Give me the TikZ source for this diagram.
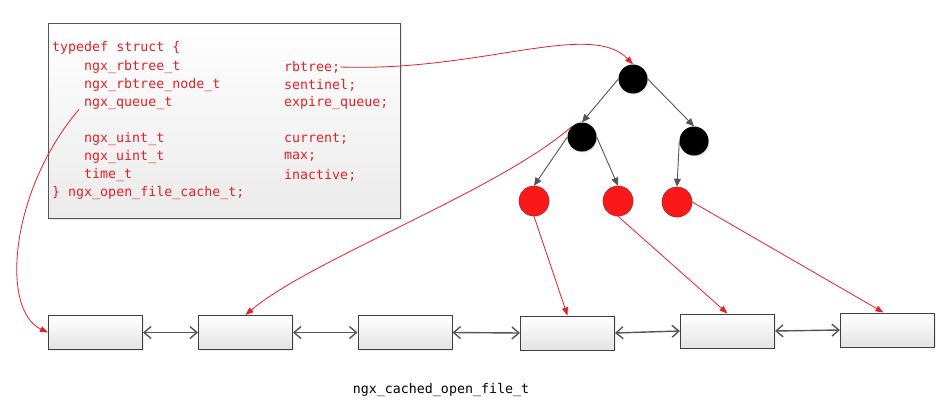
\documentclass[tikz,border=0pt]{standalone}
\usepackage{fontspec}
\setmonofont{DejaVu Sans Mono}
\usepackage{xcolor}
\usepackage{tikz}
\usetikzlibrary{arrows.meta, shadows}

\definecolor{codered}{RGB}{228,32,40}
\definecolor{leafred}{RGB}{250,24,24}
\definecolor{leafedge}{RGB}{170,40,40}
\definecolor{edgegray}{RGB}{85,85,85}
\definecolor{boxgray}{RGB}{64,64,64}

\tikzset{
    code/.style={font=\ttfamily\fontsize{13.3pt}{16pt}\selectfont, text=codered, inner sep=0pt, anchor=west},
    structbox/.style={draw=edgegray, line width=0.9pt, top color=white, bottom color=black!8,
        minimum width=352pt, minimum height=195pt, drop shadow={opacity=0.2, shadow xshift=1.5pt, shadow yshift=-1.5pt}},
    blacknode/.style={circle, fill=black, minimum size=29pt, inner sep=0pt,
        drop shadow={opacity=0.25, shadow xshift=1pt, shadow yshift=-1pt}},
    rednode/.style={circle, fill=leafred, draw=leafedge, line width=0.6pt, minimum size=30pt, inner sep=0pt,
        drop shadow={opacity=0.2, shadow xshift=1pt, shadow yshift=-1pt}},
    listbox/.style={draw=boxgray, line width=1pt, top color=white, bottom color=black!11,
        minimum width=94pt, minimum height=34pt, inner sep=0pt,
        drop shadow={opacity=0.15, shadow xshift=1pt, shadow yshift=-1pt}},
    treeedge/.style={draw=edgegray, line width=0.9pt, -{Triangle[length=8pt,width=7pt]}},
    pointer/.style={draw=codered, line width=0.8pt, -{Triangle[length=8pt,width=6pt]}},
    link/.style={draw=edgegray, line width=1.4pt, {Straight Barb[length=7pt,width=12pt]}-{Straight Barb[length=7pt,width=12pt]}}
}

\begin{document}
\begin{tikzpicture}[x=1pt,y=-1pt]
    \useasboundingbox (0,0) rectangle (946,410);

    % the cache struct
    \node[structbox] (cache) at (224,120.5) {};
    \node[code] (head) at (52,48) {typedef struct \{};
    \foreach \y/\t/\n in {67/ngx\_rbtree\_t/rbtree;, 85/ngx\_rbtree\_node\_t/sentinel;,
            103/ngx\_queue\_t/expire\_queue;, 139/ngx\_uint\_t/current;,
            157/ngx\_uint\_t/max;, 175/time\_t/inactive;} {
        \node[code] (t\y) at (84,\y) {\t};
        \node[code] (n\y) at (284,\y) {\n};
    }
    \node[code] (tail) at (52,193) {\} ngx\_open\_file\_cache\_t;};

    % rbtree
    \node[blacknode] (root) at (633,79) {};
    \node[blacknode] (lc) at (582,137) {};
    \node[blacknode] (rc) at (694,141) {};
    \node[rednode] (l1) at (534,201) {};
    \node[rednode] (l2) at (618,201) {};
    \node[rednode] (l3) at (677,202) {};

    \draw[treeedge] (root.west) -- (lc.north);
    \draw[treeedge] (root.east) -- (rc.north);
    \draw[treeedge] (lc.west) -- (l1.north);
    \draw[treeedge] (lc.east) -- (l2.north);
    \draw[treeedge] (rc.west) -- (l3.north);

    % queue of cached files
    \node[listbox] (c1) at (95.5,332.5) {};
    \node[listbox] (c2) at (245.5,332.5) {};
    \node[listbox] (c3) at (405,332.5) {};
    \node[listbox] (c4) at (567.5,333) {};
    \node[listbox] (c5) at (727.5,331) {};
    \node[listbox] (c6) at (887.5,330) {};

    \draw[link] (c1.east) -- (c2.west);
    \draw[link] (c2.east) -- (c3.west);
    \draw[link] (c3.east) -- (c4.west);
    \draw[link] (c4.east) -- (c5.west);
    \draw[link] (c5.east) -- (c6.west);

    % pointers
    \draw[pointer] (n67.east) .. controls (480,72) and (590,20) .. (root.north);
    \draw[pointer] ([xshift=-5pt]t103.south west) .. controls (10,190) and (0,310) .. (c1.west);
    \draw[pointer] (lc.north west) .. controls (500,190) and (310,260) .. (c2.north);
    \draw[pointer] (l1.south) -- (c4.north);
    \draw[pointer] (l2.south) -- (c5.north);
    \draw[pointer] (l3.east) -- ([xshift=-4pt]c6.north);

    \node[code, text=black, anchor=center] (caption) at (441,390) {ngx\_cached\_open\_file\_t};
\end{tikzpicture}
\end{document}
